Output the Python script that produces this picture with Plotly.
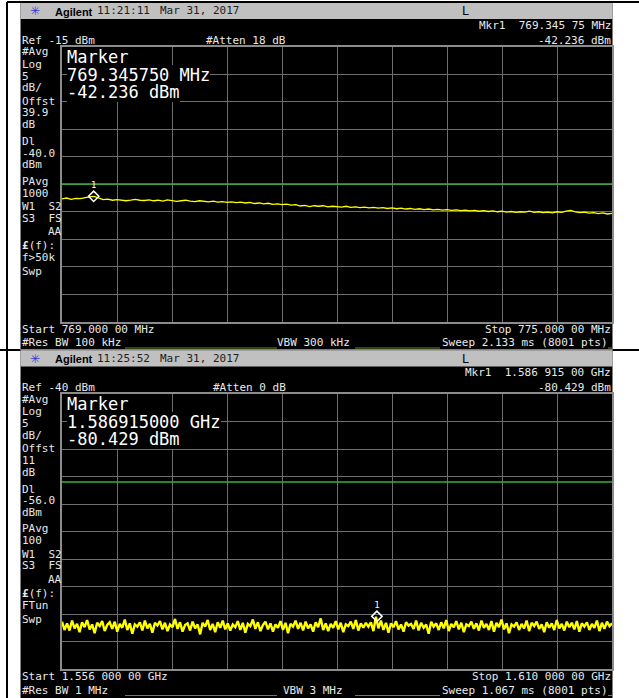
import numpy as np
import plotly.graph_objects as go

W, H = 639, 698

# ---- screen 1: 769 - 775 MHz ----
START1, STOP1 = 769.0, 775.0          # MHz
REF1, DL1 = -15.0, -40.0               # dBm
MKR1_F, MKR1_DB = 769.34575, -42.236
TRACE1_DBM = [
    -42.70, -42.55, -42.80, -42.60, -42.65, -42.45, -42.35, -42.24, -42.60, -42.85,
    -42.75, -42.95, -42.85, -42.90, -43.05, -42.95, -42.80, -42.95, -43.00, -42.90,
    -43.05, -42.95, -43.10, -42.90, -43.00, -43.15, -43.05, -42.95, -43.10, -43.20,
    -43.05, -43.15, -43.25, -43.10, -43.30, -43.20, -43.35, -43.25, -43.40, -43.30,
    -43.45, -43.35, -43.55, -43.45, -43.60, -43.50, -43.70, -43.60, -43.75, -43.65,
    -43.85, -43.75, -44.00, -43.90, -44.10, -43.95, -44.05, -43.95, -44.15, -44.05,
    -44.10, -44.20, -44.05, -44.25, -44.15, -44.30, -44.20, -44.35, -44.25, -44.40,
    -44.30, -44.45, -44.35, -44.50, -44.40, -44.55, -44.45, -44.60, -44.50, -44.65,
    -44.55, -44.70, -44.60, -44.75, -44.65, -44.80, -44.70, -44.85, -44.75, -44.90,
    -44.80, -44.95, -44.85, -45.00, -44.90, -45.05, -44.95, -45.10, -45.00, -45.15,
    -45.05, -45.10, -44.95, -45.15, -45.05, -45.20, -45.10, -45.25, -45.05, -45.15,
    -44.95, -44.80, -45.05, -45.20, -45.10, -45.30, -45.20, -45.40, -45.25, -45.45,
    -45.35,
]

# ---- screen 2: 1.556 - 1.610 GHz ----
START2, STOP2 = 1556.0, 1610.0        # MHz
REF2, DL2 = -40.0, -56.0
MKR2_F, MKR2_DB = 1586.915, -80.429
TRACE2_DBM = [
    -81.4, -82.9, -81.7, -83.0, -81.2, -82.6, -81.8, -83.3, -81.5, -82.4,
    -81.1, -82.8, -81.9, -83.5, -81.6, -82.2, -81.3, -83.1, -82.0, -81.5,
    -82.7, -81.4, -83.2, -81.8, -82.5, -81.0, -82.9, -81.7, -83.6, -81.9,
    -82.3, -81.5, -83.0, -81.2, -82.6, -81.8, -83.4, -81.6, -82.1, -81.3,
    -82.8, -81.6, -83.1, -81.9, -82.4, -80.9, -82.7, -81.5, -83.2, -82.0,
    -81.7, -83.0, -81.4, -82.6, -81.9, -83.7, -81.6, -82.3, -81.1, -82.9,
    -81.8, -83.3, -81.5, -82.5, -81.2, -82.8, -81.7, -83.0, -81.9, -82.4,
    -81.3, -82.9, -81.6, -83.4, -81.8, -82.2, -81.0, -82.7, -81.5, -83.1,
    -82.0, -81.4, -82.8, -81.7, -83.2, -81.9, -82.5, -81.3, -82.9, -81.6,
    -83.5, -81.8, -82.3, -81.2, -82.7, -81.6, -83.0, -81.4, -82.6, -81.9,
    -83.2, -81.5, -82.4, -80.8, -82.9, -81.7, -83.1, -81.8, -82.5, -81.3,
    -82.8, -81.6, -83.3, -81.9, -82.2, -81.4, -82.7, -81.1, -83.0, -81.7,
    -82.5, -81.6, -82.3, -81.5, -83.1, -80.5, -82.6, -81.2, -82.9, -81.6,
    -83.4, -81.7, -82.4, -81.3, -82.8, -81.9, -83.2, -81.5, -82.1, -81.8,
    -82.7, -81.2, -83.0, -81.6, -82.5, -81.9, -83.6, -81.4, -82.3, -81.7,
    -82.9, -81.5, -82.6, -81.1, -83.1, -81.8, -82.4, -81.3, -82.8, -81.6,
    -83.3, -81.9, -82.2, -81.4, -82.7, -81.7, -83.0, -81.2, -82.5, -81.8,
    -82.9, -81.3, -83.2, -81.6, -82.4, -81.0, -82.8, -81.7, -83.5, -81.9,
    -82.3, -81.5, -82.9, -81.8, -82.6, -81.2, -83.1, -81.6, -82.2, -81.4,
    -82.7, -81.9, -83.3, -81.5, -82.5, -81.7, -82.9, -81.1, -82.6, -81.8,
    -83.0, -81.4, -82.4, -81.6, -82.8, -81.3, -83.2, -81.7, -82.3, -81.5,
    -82.9, -81.8, -82.5, -81.2, -83.1, -81.6, -82.7, -81.4, -82.2, -81.7,
]

SCREENS = [
    dict(top=3.0, bottom=349.5, start=START1, stop=STOP1, ref=REF1, dl=DL1,
         mkr_f=MKR1_F, mkr_db=MKR1_DB, trace=TRACE1_DBM,
         clock="11:21:11", date="Mar 31, 2017",
         mkr_row="Mkr1  769.345 75 MHz", mkr_val="-42.236 dBm",
         ref_txt="Ref -15 dBm", atten="#Atten 18 dB",
         box=["Marker", "769.345750 MHz", "-42.236 dBm"],
         left=["#Avg", "Log", "5", "dB/", "Offst", "39.9", "dB", "Dl", "-40.0", "dBm",
               "PAvg", "1000", "W1  S2", "S3  FS", "AA", "<b>£</b>(f):", "f>50k", "Swp"],
         start_txt="Start 769.000 00 MHz", stop_txt="Stop 775.000 00 MHz",
         rbw="#Res BW 100 kHz", vbw="VBW 300 kHz", vbw_x=277,
         sweep="Sweep 2.133 ms (8001 pts)"),
    dict(top=350.5, bottom=698.0, start=START2, stop=STOP2, ref=REF2, dl=DL2,
         mkr_f=MKR2_F, mkr_db=MKR2_DB, trace=TRACE2_DBM,
         clock="11:25:52", date="Mar 31, 2017",
         mkr_row="Mkr1  1.586 915 00 GHz", mkr_val="-80.429 dBm",
         ref_txt="Ref -40 dBm", atten="#Atten 0 dB",
         box=["Marker", "1.586915000 GHz", "-80.429 dBm"],
         left=["#Avg", "Log", "5", "dB/", "Offst", "11", "dB", "Dl", "-56.0", "dBm",
               "PAvg", "100", "W1  S2", "S3  FS", "AA", "<b>£</b>(f):", "FTun", "Swp"],
         start_txt="Start 1.556 000 00 GHz", stop_txt="Stop 1.610 000 00 GHz",
         rbw="#Res BW 1 MHz", vbw="VBW 3 MHz", vbw_x=283,
         sweep="Sweep 1.067 ms (8001 pts)"),
]
LEFT_OFFSETS = [5, 17.8, 29.7, 41.5, 54.5, 66.3, 78, 95, 106.5, 118,
                134.5, 146.5, 160, 171.5, 185.2, 199.1, 211.3, 225.3]

MONO = "DejaVu Sans Mono"
FG = "#e8e8e8"
GRID = "#6e6e6e"
EDGE = "#8c8c8c"
X0, X1 = 62, 612          # grid left / right in px
SX0, SX1 = 20.5, 612.5    # screen left / right in px


def px(x):
    return x / W


def py(y):
    return 1 - y / H


shapes = []
annotations = []


def txt(x, y, s, size=11, color=FG, anchor="left", family=MONO, bg=None):
    a = dict(x=px(x), y=py(y), xref="paper", yref="paper", text=s.replace("  ", "\u00a0\u00a0"),
             showarrow=False, xanchor=anchor, yanchor="middle", borderpad=0, borderwidth=0,
             font=dict(family=family, size=size, color=color))
    if bg:
        a["bgcolor"] = bg
    annotations.append(a)


def rect(x0, y0, x1, y1, color):
    shapes.append(dict(type="rect", xref="paper", yref="paper", x0=px(x0), x1=px(x1),
                       y0=py(y1), y1=py(y0), fillcolor=color, line=dict(width=0), layer="below"))


def hline(x0, x1, y, color, width=1):
    shapes.append(dict(type="line", xref="paper", yref="paper", x0=px(x0), x1=px(x1),
                       y0=py(y), y1=py(y), line=dict(color=color, width=width)))


fig = go.Figure()
layout_axes = {}

for i, s in enumerate(SCREENS):
    n = "" if i == 0 else str(i + 1)
    top = s["top"]
    gt = top + 43.5
    gb = gt + 275

    rect(SX0, top, SX1, s["bottom"], "black")
    rect(SX0, top, SX1, top + 16, "#c0c0c0")

    # title bar
    txt(35, top + 8, "✳", size=12, color="#3a3ae0", anchor="center", family="DejaVu Sans")
    txt(55, top + 8.5, "<b>Agilent</b>", size=11, color="black", family="Liberation Sans")
    txt(97, top + 8, s["clock"], color="#202020")
    txt(160, top + 8, s["date"], color="#202020")
    txt(465, top + 8, "L", size=12, color="black", anchor="center", family="DejaVu Sans")

    txt(611, top + 22, s["mkr_row"], anchor="right")
    txt(611, top + 37, s["mkr_val"], anchor="right")
    txt(22, top + 37, s["ref_txt"])
    txt(286, top + 37, s["atten"], anchor="right")

    for label, off in zip(s["left"], LEFT_OFFSETS):
        if label == "AA":
            txt(61.5, gt + off, label, anchor="right")
        else:
            txt(22, gt + off, label)

    for label, off in zip(s["box"], [10, 28.3, 45.4]):
        txt(67, gt + off, label, size=17, color="white", bg="black")

    txt(22, gb + 7.8, s["start_txt"])
    txt(611, gb + 7.8, s["stop_txt"], anchor="right")
    txt(22, gb + 21, s["rbw"])
    txt(s["vbw_x"], gb + 21, s["vbw"])
    txt(608, gb + 21, s["sweep"], anchor="right")
    for a, b in [(125, 277), (355, 440), (608, 612)]:
        hline(a, b, gb + 26.5, "#5f8f1f", 1)

    freqs = np.linspace(s["start"], s["stop"], len(s["trace"]))
    xa, ya = "x" + n, "y" + n
    fig.add_trace(go.Scatter(x=[s["start"], s["stop"]], y=[s["dl"], s["dl"]], mode="lines",
                             line=dict(color="#33b233", width=1.5), xaxis=xa, yaxis=ya,
                             hoverinfo="skip"))
    fig.add_trace(go.Scatter(x=freqs, y=s["trace"], mode="lines",
                             line=dict(color="#ffff00", width=1.3 if i == 0 else 2.4),
                             xaxis=xa, yaxis=ya))
    fig.add_trace(go.Scatter(x=[s["mkr_f"]], y=[s["mkr_db"]], mode="markers+text", text=["1"],
                             textposition="top center",
                             textfont=dict(family=MONO, size=9, color="white"),
                             marker=dict(symbol="diamond-open", size=8, color="white",
                                         line=dict(width=1.5, color="white")),
                             xaxis=xa, yaxis=ya))

    layout_axes["xaxis" + n] = dict(
        domain=[px(X0), px(X1)], range=[s["start"], s["stop"]], tick0=s["start"],
        dtick=(s["stop"] - s["start"]) / 10, showticklabels=False, ticks="",
        showgrid=True, gridcolor=GRID, gridwidth=1, zeroline=False,
        showline=True, mirror=True, linecolor=EDGE, linewidth=1.5, anchor=ya, fixedrange=True)
    layout_axes["yaxis" + n] = dict(
        domain=[py(gb), py(gt)], range=[s["ref"] - 50, s["ref"]], tick0=s["ref"], dtick=5,
        showticklabels=False, ticks="", showgrid=True, gridcolor=GRID, gridwidth=1,
        zeroline=False, showline=True, mirror=True, linecolor=EDGE, linewidth=1.5,
        anchor=xa, fixedrange=True)

# table borders around the screenshots
shapes.append(dict(type="line", xref="paper", yref="paper", x0=px(7), x1=px(7),
                   y0=py(2), y1=py(698), line=dict(color="black", width=2)))
hline(7, 639, 2, "black", 2)
hline(0, SX0, 350, "black", 2)
hline(SX1, 639, 350, "black", 2)

fig.update_layout(
    width=W, height=H, autosize=False,
    margin=dict(l=0, r=0, t=0, b=0),
    paper_bgcolor="white", plot_bgcolor="black",
    showlegend=False, hovermode=False,
    shapes=shapes, annotations=annotations,
    **layout_axes,
)

# the page body has an 8px margin by default; drop it so the figure sits at 0,0
fig.write_html("out.html", config={"displayModeBar": False},
               post_script="document.body.style.margin='0';")
